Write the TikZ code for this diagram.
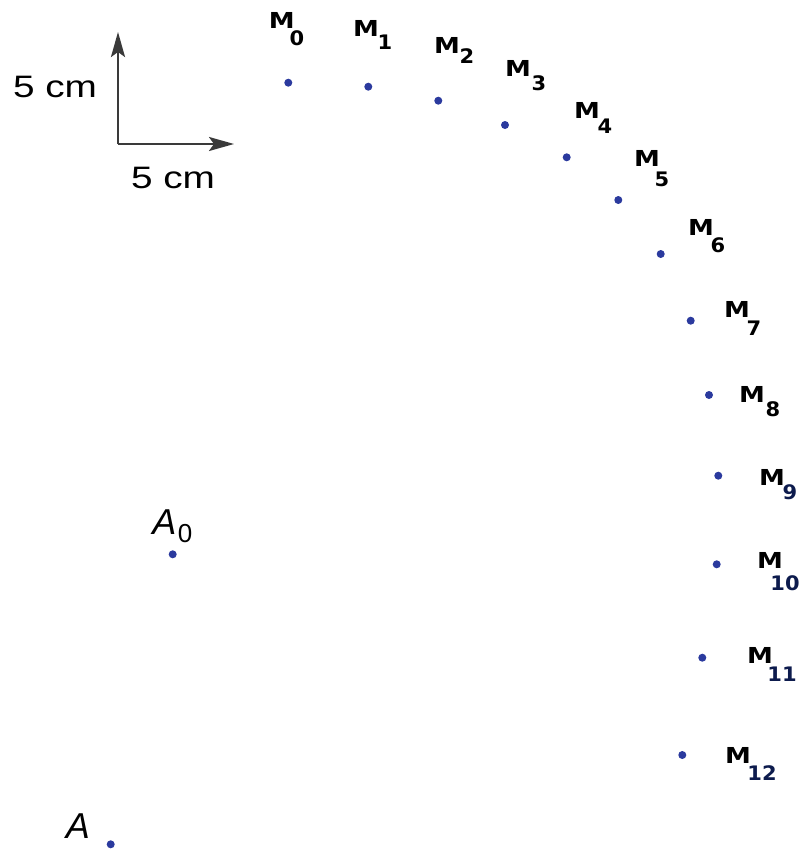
\documentclass[tikz,border=0pt]{standalone}
\usepackage{fontspec}
\setmainfont{Liberation Sans}
\newfontfamily\mfont{DejaVu Sans}
\usetikzlibrary{arrows.meta}
\definecolor{dotblue}{HTML}{2B3A9E}
\definecolor{navy}{HTML}{0D1B4D}
\definecolor{axisgray}{HTML}{3A3A3A}
\tikzset{
  pt/.style={circle,fill=dotblue,inner sep=0pt,minimum size=8pt},
  mlab/.style={inner sep=0pt,font=\mfont\bfseries\fontsize{22}{22}\selectfont},
  msub/.style={inner sep=0pt,font=\mfont\bfseries\fontsize{20}{20}\selectfont},
  alab/.style={inner sep=0pt,font=\itshape\fontsize{36}{36}\selectfont},
  asub/.style={inner sep=0pt,font=\fontsize{26}{26}\selectfont},
  cmlab/.style={inner sep=0pt,font=\fontsize{31}{31}\selectfont},
  scalearrow/.style={draw=axisgray,line width=2.5pt,-{Stealth[length=25pt,width=14pt,inset=5pt]}}
}
\newcommand{\Mx}{\scalebox{1.18}[1]{M}}
\newcommand{\Sx}[1]{\scalebox{1.05}[1]{#1}}
\begin{document}
\begin{tikzpicture}[x=1pt,y=-1pt]
\useasboundingbox (0,0) rectangle (801,851);
% scale bar
\coordinate (o) at (118,144);
\coordinate (up) at (118,32);
\coordinate (rt) at (234,144);
\draw[scalearrow] (o) -- (up);
\draw[scalearrow] (o) -- (rt);
\node[cmlab] (cmv) at (55,87) {\scalebox{1.25}[1]{5 cm}};
\node[cmlab] (cmh) at (173,178) {\scalebox{1.25}[1]{5 cm}};
% points M
\node[pt] (m0) at (288.3,82.7) {};
\node[pt] (m1) at (368.3,86.7) {};
\node[pt] (m2) at (438.3,100.7) {};
\node[pt] (m3) at (505,125) {};
\node[pt] (m4) at (566.7,157.3) {};
\node[pt] (m5) at (618.3,200) {};
\node[pt] (m6) at (660.7,254) {};
\node[pt] (m7) at (690.7,320.7) {};
\node[pt] (m8) at (709,395) {};
\node[pt] (m9) at (718.3,475.7) {};
\node[pt] (m10) at (716.7,564.3) {};
\node[pt] (m11) at (702.3,657.7) {};
\node[pt] (m12) at (682.3,755) {};
% labels M
\node[mlab] (lm0) at (281.7,20) {\Mx};   \node[msub] (sm0) at (297,38) {\Sx{0}};
\node[mlab] (lm1) at (366,28) {\Mx};     \node[msub] (sm1) at (385,42) {\Sx{1}};
\node[mlab] (lm2) at (447,45) {\Mx};     \node[msub] (sm2) at (467,56) {\Sx{2}};
\node[mlab] (lm3) at (518,68) {\Mx};     \node[msub] (sm3) at (539,83) {\Sx{3}};
\node[mlab] (lm4) at (587,110) {\Mx};    \node[msub] (sm4) at (605,126) {\Sx{4}};
\node[mlab] (lm5) at (647,158) {\Mx};    \node[msub] (sm5) at (662,179) {\Sx{5}};
\node[mlab] (lm6) at (701,227) {\Mx};    \node[msub] (sm6) at (718,245) {\Sx{6}};
\node[mlab] (lm7) at (737,309) {\Mx};    \node[msub] (sm7) at (754,328) {\Sx{7}};
\node[mlab] (lm8) at (752,394) {\Mx};    \node[msub] (sm8) at (773,409) {\Sx{8}};
\node[mlab] (lm9) at (772,477) {\Mx};    \node[msub,text=navy] (sm9) at (790,492) {\Sx{9}};
\node[mlab] (lm10) at (770,560) {\Mx};   \node[msub,text=navy] (sm10) at (785,583) {\Sx{10}};
\node[mlab] (lm11) at (760,655) {\Mx};   \node[msub,text=navy] (sm11) at (782,674) {\Sx{11}};
\node[mlab] (lm12) at (738,755) {\Mx};   \node[msub,text=navy] (sm12) at (762,773) {\Sx{12}};
% points A
\node[pt] (a0) at (172.7,554.3) {};
\node[pt] (a) at (110.7,844.3) {};
\node[alab] (la0) at (164.5,522.5) {A};
\node[asub] (sa0) at (185,534) {0};
\node[alab] (la) at (78,826) {A};
\end{tikzpicture}
\end{document}
